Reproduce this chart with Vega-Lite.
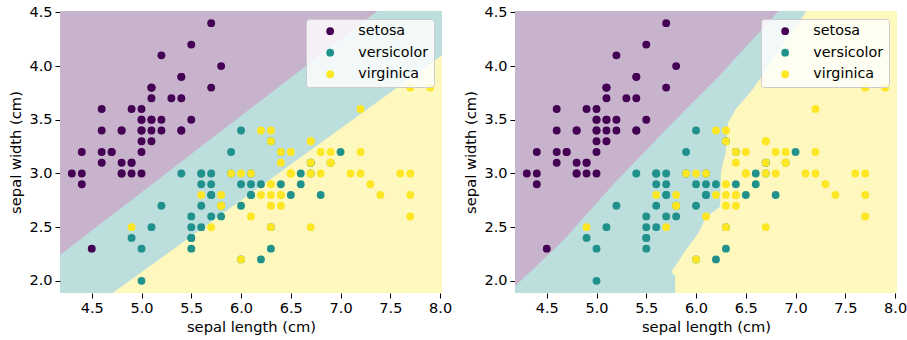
{
  "$schema": "https://vega.github.io/schema/vega-lite/v6.json",
  "padding": {"left": 8, "top": 4, "right": 10, "bottom": 5},
  "spacing": 73,
  "bounds": "flush",
  "datasets": {
    "iris": [
      {"sepal_length":5.1,"sepal_width":3.5,"species":"setosa"},{"sepal_length":4.9,"sepal_width":3.0,"species":"setosa"},{"sepal_length":4.7,"sepal_width":3.2,"species":"setosa"},{"sepal_length":4.6,"sepal_width":3.1,"species":"setosa"},{"sepal_length":5.0,"sepal_width":3.6,"species":"setosa"},
      {"sepal_length":5.4,"sepal_width":3.9,"species":"setosa"},{"sepal_length":4.6,"sepal_width":3.4,"species":"setosa"},{"sepal_length":5.0,"sepal_width":3.4,"species":"setosa"},{"sepal_length":4.4,"sepal_width":2.9,"species":"setosa"},{"sepal_length":4.9,"sepal_width":3.1,"species":"setosa"},
      {"sepal_length":5.4,"sepal_width":3.7,"species":"setosa"},{"sepal_length":4.8,"sepal_width":3.4,"species":"setosa"},{"sepal_length":4.8,"sepal_width":3.0,"species":"setosa"},{"sepal_length":4.3,"sepal_width":3.0,"species":"setosa"},{"sepal_length":5.8,"sepal_width":4.0,"species":"setosa"},
      {"sepal_length":5.7,"sepal_width":4.4,"species":"setosa"},{"sepal_length":5.4,"sepal_width":3.9,"species":"setosa"},{"sepal_length":5.1,"sepal_width":3.5,"species":"setosa"},{"sepal_length":5.7,"sepal_width":3.8,"species":"setosa"},{"sepal_length":5.1,"sepal_width":3.8,"species":"setosa"},
      {"sepal_length":5.4,"sepal_width":3.4,"species":"setosa"},{"sepal_length":5.1,"sepal_width":3.7,"species":"setosa"},{"sepal_length":4.6,"sepal_width":3.6,"species":"setosa"},{"sepal_length":5.1,"sepal_width":3.3,"species":"setosa"},{"sepal_length":4.8,"sepal_width":3.4,"species":"setosa"},
      {"sepal_length":5.0,"sepal_width":3.0,"species":"setosa"},{"sepal_length":5.0,"sepal_width":3.4,"species":"setosa"},{"sepal_length":5.2,"sepal_width":3.5,"species":"setosa"},{"sepal_length":5.2,"sepal_width":3.4,"species":"setosa"},{"sepal_length":4.7,"sepal_width":3.2,"species":"setosa"},
      {"sepal_length":4.8,"sepal_width":3.1,"species":"setosa"},{"sepal_length":5.4,"sepal_width":3.4,"species":"setosa"},{"sepal_length":5.2,"sepal_width":4.1,"species":"setosa"},{"sepal_length":5.5,"sepal_width":4.2,"species":"setosa"},{"sepal_length":4.9,"sepal_width":3.1,"species":"setosa"},
      {"sepal_length":5.0,"sepal_width":3.2,"species":"setosa"},{"sepal_length":5.5,"sepal_width":3.5,"species":"setosa"},{"sepal_length":4.9,"sepal_width":3.6,"species":"setosa"},{"sepal_length":4.4,"sepal_width":3.0,"species":"setosa"},{"sepal_length":5.1,"sepal_width":3.4,"species":"setosa"},
      {"sepal_length":5.0,"sepal_width":3.5,"species":"setosa"},{"sepal_length":4.5,"sepal_width":2.3,"species":"setosa"},{"sepal_length":4.4,"sepal_width":3.2,"species":"setosa"},{"sepal_length":5.0,"sepal_width":3.5,"species":"setosa"},{"sepal_length":5.1,"sepal_width":3.8,"species":"setosa"},
      {"sepal_length":4.8,"sepal_width":3.0,"species":"setosa"},{"sepal_length":5.1,"sepal_width":3.8,"species":"setosa"},{"sepal_length":4.6,"sepal_width":3.2,"species":"setosa"},{"sepal_length":5.3,"sepal_width":3.7,"species":"setosa"},{"sepal_length":5.0,"sepal_width":3.3,"species":"setosa"},
      {"sepal_length":7.0,"sepal_width":3.2,"species":"versicolor"},{"sepal_length":6.4,"sepal_width":3.2,"species":"versicolor"},{"sepal_length":6.9,"sepal_width":3.1,"species":"versicolor"},{"sepal_length":5.5,"sepal_width":2.3,"species":"versicolor"},{"sepal_length":6.5,"sepal_width":2.8,"species":"versicolor"},
      {"sepal_length":5.7,"sepal_width":2.8,"species":"versicolor"},{"sepal_length":6.3,"sepal_width":3.3,"species":"versicolor"},{"sepal_length":4.9,"sepal_width":2.4,"species":"versicolor"},{"sepal_length":6.6,"sepal_width":2.9,"species":"versicolor"},{"sepal_length":5.2,"sepal_width":2.7,"species":"versicolor"},
      {"sepal_length":5.0,"sepal_width":2.0,"species":"versicolor"},{"sepal_length":5.9,"sepal_width":3.0,"species":"versicolor"},{"sepal_length":6.0,"sepal_width":2.2,"species":"versicolor"},{"sepal_length":6.1,"sepal_width":2.9,"species":"versicolor"},{"sepal_length":5.6,"sepal_width":2.9,"species":"versicolor"},
      {"sepal_length":6.7,"sepal_width":3.1,"species":"versicolor"},{"sepal_length":5.6,"sepal_width":3.0,"species":"versicolor"},{"sepal_length":5.8,"sepal_width":2.7,"species":"versicolor"},{"sepal_length":6.2,"sepal_width":2.2,"species":"versicolor"},{"sepal_length":5.6,"sepal_width":2.5,"species":"versicolor"},
      {"sepal_length":5.9,"sepal_width":3.2,"species":"versicolor"},{"sepal_length":6.1,"sepal_width":2.8,"species":"versicolor"},{"sepal_length":6.3,"sepal_width":2.5,"species":"versicolor"},{"sepal_length":6.1,"sepal_width":2.8,"species":"versicolor"},{"sepal_length":6.4,"sepal_width":2.9,"species":"versicolor"},
      {"sepal_length":6.6,"sepal_width":3.0,"species":"versicolor"},{"sepal_length":6.8,"sepal_width":2.8,"species":"versicolor"},{"sepal_length":6.7,"sepal_width":3.0,"species":"versicolor"},{"sepal_length":6.0,"sepal_width":2.9,"species":"versicolor"},{"sepal_length":5.7,"sepal_width":2.6,"species":"versicolor"},
      {"sepal_length":5.5,"sepal_width":2.4,"species":"versicolor"},{"sepal_length":5.5,"sepal_width":2.4,"species":"versicolor"},{"sepal_length":5.8,"sepal_width":2.7,"species":"versicolor"},{"sepal_length":6.0,"sepal_width":2.7,"species":"versicolor"},{"sepal_length":5.4,"sepal_width":3.0,"species":"versicolor"},
      {"sepal_length":6.0,"sepal_width":3.4,"species":"versicolor"},{"sepal_length":6.7,"sepal_width":3.1,"species":"versicolor"},{"sepal_length":6.3,"sepal_width":2.3,"species":"versicolor"},{"sepal_length":5.6,"sepal_width":3.0,"species":"versicolor"},{"sepal_length":5.5,"sepal_width":2.5,"species":"versicolor"},
      {"sepal_length":5.5,"sepal_width":2.6,"species":"versicolor"},{"sepal_length":6.1,"sepal_width":3.0,"species":"versicolor"},{"sepal_length":5.8,"sepal_width":2.6,"species":"versicolor"},{"sepal_length":5.0,"sepal_width":2.3,"species":"versicolor"},{"sepal_length":5.6,"sepal_width":2.7,"species":"versicolor"},
      {"sepal_length":5.7,"sepal_width":3.0,"species":"versicolor"},{"sepal_length":5.7,"sepal_width":2.9,"species":"versicolor"},{"sepal_length":6.2,"sepal_width":2.9,"species":"versicolor"},{"sepal_length":5.1,"sepal_width":2.5,"species":"versicolor"},{"sepal_length":5.7,"sepal_width":2.8,"species":"versicolor"},
      {"sepal_length":6.3,"sepal_width":3.3,"species":"virginica"},{"sepal_length":5.8,"sepal_width":2.7,"species":"virginica"},{"sepal_length":7.1,"sepal_width":3.0,"species":"virginica"},{"sepal_length":6.3,"sepal_width":2.9,"species":"virginica"},{"sepal_length":6.5,"sepal_width":3.0,"species":"virginica"},
      {"sepal_length":7.6,"sepal_width":3.0,"species":"virginica"},{"sepal_length":4.9,"sepal_width":2.5,"species":"virginica"},{"sepal_length":7.3,"sepal_width":2.9,"species":"virginica"},{"sepal_length":6.7,"sepal_width":2.5,"species":"virginica"},{"sepal_length":7.2,"sepal_width":3.6,"species":"virginica"},
      {"sepal_length":6.5,"sepal_width":3.2,"species":"virginica"},{"sepal_length":6.4,"sepal_width":2.7,"species":"virginica"},{"sepal_length":6.8,"sepal_width":3.0,"species":"virginica"},{"sepal_length":5.7,"sepal_width":2.5,"species":"virginica"},{"sepal_length":5.8,"sepal_width":2.8,"species":"virginica"},
      {"sepal_length":6.4,"sepal_width":3.2,"species":"virginica"},{"sepal_length":6.5,"sepal_width":3.0,"species":"virginica"},{"sepal_length":7.7,"sepal_width":3.8,"species":"virginica"},{"sepal_length":7.7,"sepal_width":2.6,"species":"virginica"},{"sepal_length":6.0,"sepal_width":2.2,"species":"virginica"},
      {"sepal_length":6.9,"sepal_width":3.2,"species":"virginica"},{"sepal_length":5.6,"sepal_width":2.8,"species":"virginica"},{"sepal_length":7.7,"sepal_width":2.8,"species":"virginica"},{"sepal_length":6.3,"sepal_width":2.7,"species":"virginica"},{"sepal_length":6.7,"sepal_width":3.3,"species":"virginica"},
      {"sepal_length":7.2,"sepal_width":3.2,"species":"virginica"},{"sepal_length":6.2,"sepal_width":2.8,"species":"virginica"},{"sepal_length":6.1,"sepal_width":3.0,"species":"virginica"},{"sepal_length":6.4,"sepal_width":2.8,"species":"virginica"},{"sepal_length":7.2,"sepal_width":3.0,"species":"virginica"},
      {"sepal_length":7.4,"sepal_width":2.8,"species":"virginica"},{"sepal_length":7.9,"sepal_width":3.8,"species":"virginica"},{"sepal_length":6.4,"sepal_width":2.8,"species":"virginica"},{"sepal_length":6.3,"sepal_width":2.8,"species":"virginica"},{"sepal_length":6.1,"sepal_width":2.6,"species":"virginica"},
      {"sepal_length":7.7,"sepal_width":3.0,"species":"virginica"},{"sepal_length":6.3,"sepal_width":3.4,"species":"virginica"},{"sepal_length":6.4,"sepal_width":3.1,"species":"virginica"},{"sepal_length":6.0,"sepal_width":3.0,"species":"virginica"},{"sepal_length":6.9,"sepal_width":3.1,"species":"virginica"},
      {"sepal_length":6.7,"sepal_width":3.1,"species":"virginica"},{"sepal_length":6.9,"sepal_width":3.1,"species":"virginica"},{"sepal_length":5.8,"sepal_width":2.7,"species":"virginica"},{"sepal_length":6.8,"sepal_width":3.2,"species":"virginica"},{"sepal_length":6.7,"sepal_width":3.3,"species":"virginica"},
      {"sepal_length":6.7,"sepal_width":3.0,"species":"virginica"},{"sepal_length":6.3,"sepal_width":2.5,"species":"virginica"},{"sepal_length":6.5,"sepal_width":3.0,"species":"virginica"},{"sepal_length":6.2,"sepal_width":3.4,"species":"virginica"},{"sepal_length":5.9,"sepal_width":3.0,"species":"virginica"}
    ],
    "left_setosa_region": [
      {"sepal_width":2.24,"sepal_length":4.181},
      {"sepal_width":4.513,"sepal_length":7.37}
    ],
    "left_virginica_region": [
      {"sepal_width":1.887,"sepal_length":4.71},
      {"sepal_width":4.1,"sepal_length":8.019}
    ],
    "right_setosa_region": [
      {"sepal_width":1.95,"sepal_length":4.181},
      {"sepal_width":2.38,"sepal_length":4.67},
      {"sepal_width":2.59,"sepal_length":4.87},
      {"sepal_width":2.9,"sepal_length":5.17},
      {"sepal_width":3.21,"sepal_length":5.49},
      {"sepal_width":3.6,"sepal_length":5.9},
      {"sepal_width":3.905,"sepal_length":6.23},
      {"sepal_width":4.21,"sepal_length":6.53},
      {"sepal_width":4.513,"sepal_length":6.83}
    ],
    "right_virginica_region": [
      {"sepal_width":1.887,"sepal_length":5.79},
      {"sepal_width":2.05,"sepal_length":5.79},
      {"sepal_width":2.07,"sepal_length":5.76},
      {"sepal_width":2.1,"sepal_length":5.76},
      {"sepal_width":2.15,"sepal_length":5.8},
      {"sepal_width":2.29,"sepal_length":5.9},
      {"sepal_width":2.44,"sepal_length":6.02},
      {"sepal_width":2.59,"sepal_length":6.1},
      {"sepal_width":2.69,"sepal_length":6.24},
      {"sepal_width":3.0,"sepal_length":6.25},
      {"sepal_width":3.1,"sepal_length":6.27},
      {"sepal_width":3.2,"sepal_length":6.3},
      {"sepal_width":3.47,"sepal_length":6.32},
      {"sepal_width":3.6,"sepal_length":6.4},
      {"sepal_width":3.78,"sepal_length":6.566},
      {"sepal_width":4.513,"sepal_length":7.11}
    ]
  },
  "config": {
    "font": "DejaVu Sans",
    "view": {"fill": "#bcdedd", "stroke": null},
    "axis": {
      "grid": false, "domain": false,
      "tickColor": "#000", "tickSize": 5, "tickWidth": 1,
      "labelFontSize": 14.5, "titleFontSize": 14.7,
      "labelColor": "#000", "titleColor": "#000", "titleFontWeight": "normal",
      "labelPadding": 3, "titlePadding": 5, "labelFlush": false, "labelOverlap": false
    },
    "legend": {
      "orient": "top-right", "offset": 8,
      "fillColor": "rgba(255,255,255,0.8)", "strokeColor": "#cccccc", "cornerRadius": 3,
      "padding": 5, "labelFontSize": 14.3, "labelColor": "#000",
      "symbolSize": 60, "symbolType": "circle", "rowPadding": 6.5,
      "symbolOffset": 12, "labelOffset": 21
    }
  },
  "resolve": {"scale": {"color": "independent"}, "legend": {"color": "independent"}},
  "hconcat": [
    {
      "width": 382, "height": 282,
      "layer": [
        {
          "data": {"name": "left_setosa_region"},
          "mark": {"type": "area", "orient": "horizontal", "color": "#c7b3cc"},
          "encoding": {
            "y": {"field": "sepal_width", "type": "quantitative", "scale": {"domain": [1.887, 4.513], "nice": false, "zero": false}},
            "x": {"field": "sepal_length", "type": "quantitative", "scale": {"domain": [4.181, 8.019], "nice": false, "zero": false}},
            "x2": {"datum": 4.181}
          }
        },
        {
          "data": {"name": "left_virginica_region"},
          "mark": {"type": "area", "orient": "horizontal", "color": "#fef8be"},
          "encoding": {
            "y": {"field": "sepal_width", "type": "quantitative"},
            "x": {"field": "sepal_length", "type": "quantitative"},
            "x2": {"datum": 8.019}
          }
        },
        {
          "data": {"name": "iris"},
          "mark": {"type": "point", "filled": true, "opacity": 1, "size": 62},
          "encoding": {
            "x": {"field": "sepal_length", "type": "quantitative", "title": "sepal length (cm)", "axis": {"values": [4.5,5.0,5.5,6.0,6.5,7.0,7.5,8.0], "format": ".1f"}},
            "y": {"field": "sepal_width", "type": "quantitative", "title": "sepal width (cm)", "axis": {"values": [2.0,2.5,3.0,3.5,4.0,4.5], "format": ".1f"}},
            "color": {"field": "species", "type": "nominal", "scale": {"domain": ["setosa","versicolor","virginica"], "range": ["#440154","#21918c","#fde725"]}, "legend": {"title": null}}
          }
        },
        {
          "mark": {"type": "rect", "fill": null, "fillOpacity": 0, "stroke": "#1a1a1a", "strokeWidth": 1},
          "encoding": {
            "x": {"datum": 4.181}, "x2": {"datum": 8.019},
            "y": {"datum": 1.887}, "y2": {"datum": 4.513}
          }
        }
      ]
    },
    {
      "width": 382, "height": 282,
      "layer": [
        {
          "data": {"name": "right_setosa_region"},
          "mark": {"type": "area", "orient": "horizontal", "color": "#c7b3cc"},
          "encoding": {
            "y": {"field": "sepal_width", "type": "quantitative", "scale": {"domain": [1.887, 4.513], "nice": false, "zero": false}},
            "x": {"field": "sepal_length", "type": "quantitative", "scale": {"domain": [4.181, 8.019], "nice": false, "zero": false}},
            "x2": {"datum": 4.181}
          }
        },
        {
          "data": {"name": "right_virginica_region"},
          "mark": {"type": "area", "orient": "horizontal", "color": "#fef8be"},
          "encoding": {
            "y": {"field": "sepal_width", "type": "quantitative"},
            "x": {"field": "sepal_length", "type": "quantitative"},
            "x2": {"datum": 8.019}
          }
        },
        {
          "data": {"name": "iris"},
          "mark": {"type": "point", "filled": true, "opacity": 1, "size": 62},
          "encoding": {
            "x": {"field": "sepal_length", "type": "quantitative", "title": "sepal length (cm)", "axis": {"values": [4.5,5.0,5.5,6.0,6.5,7.0,7.5,8.0], "format": ".1f"}},
            "y": {"field": "sepal_width", "type": "quantitative", "title": "sepal width (cm)", "axis": {"values": [2.0,2.5,3.0,3.5,4.0,4.5], "format": ".1f"}},
            "color": {"field": "species", "type": "nominal", "scale": {"domain": ["setosa","versicolor","virginica"], "range": ["#440154","#21918c","#fde725"]}, "legend": {"title": null}}
          }
        },
        {
          "mark": {"type": "rect", "fill": null, "fillOpacity": 0, "stroke": "#1a1a1a", "strokeWidth": 1},
          "encoding": {
            "x": {"datum": 4.181}, "x2": {"datum": 8.019},
            "y": {"datum": 1.887}, "y2": {"datum": 4.513}
          }
        }
      ]
    }
  ]
}
